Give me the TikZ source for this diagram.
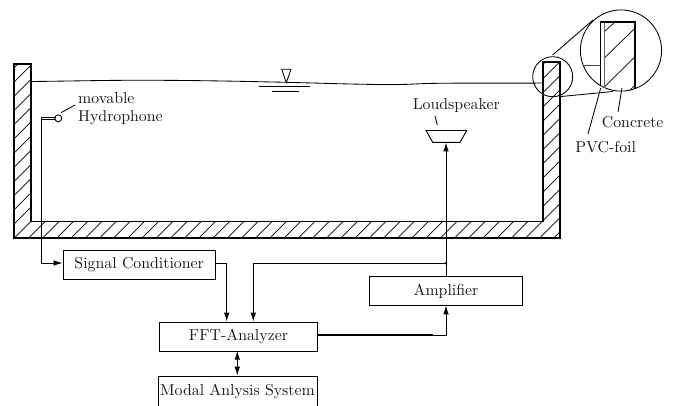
\documentclass[tikz,border=0pt]{standalone}
\usepackage{graphicx}
\usetikzlibrary{arrows.meta}
\newcommand{\txt}[1]{\scalebox{1.59}{#1}}
\tikzset{
  lbl/.style={inner sep=0pt,text=black!90},
  blockbox/.style={draw,line width=1bp,inner sep=0pt,anchor=north west,text=black!90},
  wire/.style={line width=1bp},
  arrowed/.style={wire,-{Latex[length=9bp,width=5.5bp]}},
  thin line/.style={line width=0.85bp},
  hatch/.style={line width=0.7bp},
  wallline/.style={line width=1.5bp,line join=miter},
}
\begin{document}
\begin{tikzpicture}[x=1bp,y=-1bp]
\useasboundingbox (0,0) rectangle (681,405);
\clip (0,0) rectangle (681,405);
% tank hatching
\begin{scope}
\clip (14,64) -- (31,64) -- (31,221.5) -- (543,221.5) -- (543,62) -- (560,62) -- (560,238) -- (14,238) -- cycle;
\foreach \i in {-12,...,40} {
  \draw[hatch] ({252.3+\i*14.2-300},300) -- ({252.3+\i*14.2+100},-100);
}
\end{scope}
\draw[wallline] (14,64) -- (31,64) -- (31,221.5) -- (543,221.5) -- (543,62) -- (560,62) -- (560,238) -- (14,238) -- cycle;
% water surface
\draw[thin line] (31,81.5) .. controls (80,81) and (110,80) .. (160,80.3)
  .. controls (210,80.5) and (280,82) .. (330,83.5)
  .. controls (370,84.5) and (395,85) .. (415,84)
  .. controls (440,82.5) and (500,83.5) .. (543,83);
% water level symbol
\draw[thin line] (281.7,69.3) -- (291,69.3) -- (286.3,82.7) -- cycle;
\draw[thin line] (259,86.3) -- (310,86.3);
\draw[thin line] (272.3,91.3) -- (299.3,91.3);
% zoom circles
\node[draw,circle,line width=0.85bp,minimum size=40bp,inner sep=0pt] (small) at (552.7,76.7) {};
\node[draw,circle,line width=0.85bp,minimum size=81.2bp,inner sep=0pt] (big) at (621,50.5) {};
\coordinate (st) at (552.7,55);
\coordinate (bt) at (593,20);
\coordinate (sb) at (559,96.7);
\coordinate (bb) at (613,91.5);
\draw[thin line] (st) -- (bt);
\draw[thin line] (sb) -- (bb);
% detail
\begin{scope}
\clip (621,50.5) circle (40.6);
\draw[hatch] (604,32) -- (615,22);
\draw[hatch] (604,58.3) -- (635,28.3);
\draw[hatch] (604,87.3) -- (635,56.7);
\draw[hatch] (628,92) -- (635,85);
\draw[line width=0.9bp,black!60] (604,22) -- (604,95);
\draw[wallline] (600.7,100) -- (600.7,22) -- (635,22) -- (635,100);
\end{scope}
\coordinate (dw1) at (582.7,65);
\coordinate (dw2) at (600.7,65);
\draw[thin line,black!70] (dw1) -- (dw2);
% labels at right
\node[lbl] (concrete) at (632.7,121.7) {\txt{Concrete}};
\node[lbl] (pvc) at (605.7,146.7) {\txt{PVC-foil}};
\coordinate (pvcend) at (600.7,88);
\coordinate (pvcstart) at (588,134);
\coordinate (conend) at (622,88);
\coordinate (constart) at (618,112);
\draw[thin line] (pvcstart) -- (pvcend);
\draw[thin line] (constart) -- (conend);
% hydrophone
\node[draw,circle,line width=0.9bp,minimum size=7bp,inner sep=0pt] (hyd) at (58.3,118.3) {};
\node[lbl,anchor=west] (mov) at (78,98) {\txt{movable}};
\node[lbl,anchor=west] (hydl) at (78,118) {\txt{Hydrophone}};
\coordinate (h1) at (61,112.7);
\coordinate (h2) at (75,105);
\draw[thin line] (h1) -- (h2);
\coordinate (cableA) at (41.7,117.2);
\coordinate (cableB) at (41.7,119.4);
\draw[thin line] (cableA) -- (hyd.north west |- cableA);
\draw[thin line] (cableB) -- (hyd.south west |- cableB);
% blocks
\node[blockbox,minimum width=152bp,minimum height=29bp] (sig) at (62.7,250) {\txt{Signal Conditioner}\hspace{7bp}};
\node[blockbox,minimum width=157.4bp,minimum height=29bp] (fft) at (159.3,321.7) {\txt{FFT-Analyzer}};
\node[blockbox,minimum width=158.4bp,minimum height=40bp] (modal) at (158.3,375.7) {};
\node[lbl] (modaltxt) at (237.5,391) {\txt{Modal Anlysis System}};
\node[blockbox,minimum width=152.4bp,minimum height=29.3bp] (amp) at (369.3,276) {\txt{Amplifier}};
% loudspeaker
\coordinate (ls1) at (426,130.5);
\coordinate (ls2) at (466.7,130.5);
\coordinate (ls3) at (460,142.3);
\coordinate (ls4) at (432.7,142.3);
\draw[line width=0.9bp] (ls1) -- (ls2) -- (ls3) -- (ls4) -- cycle;
\coordinate (lsb) at (446,142.3);
\node[lbl] (lsl) at (456.3,105.5) {\txt{Loudspeaker}};
\coordinate (l1) at (435,116);
\coordinate (l2) at (437.3,125);
\draw[thin line] (l1) -- (l2);
% connectors
\draw[arrowed] (cableA) -- (41.7,263) -- (sig.west |- 0,263);
\draw[arrowed] (215,263.3) -- (226.7,263.3) -- (226.7,321.7);
\coordinate (junc) at (446,263.3);
\fill (junc) circle (1.4);
\draw[arrowed] (junc) -- (253.3,263.3) -- (253.3,321.7);
\draw[arrowed] (446,276) -- (lsb);
\draw[line width=1.3bp] (fft.east |- 0,335) -- (433,335);
\draw[arrowed] (433,335) -- (446,335) -- (446,305.3);
\draw[wire,{Latex[length=9bp,width=5.5bp]}-{Latex[length=9bp,width=5.5bp]}] (237.3,350.7) -- (237.3,375.7);
\end{tikzpicture}
\end{document}
